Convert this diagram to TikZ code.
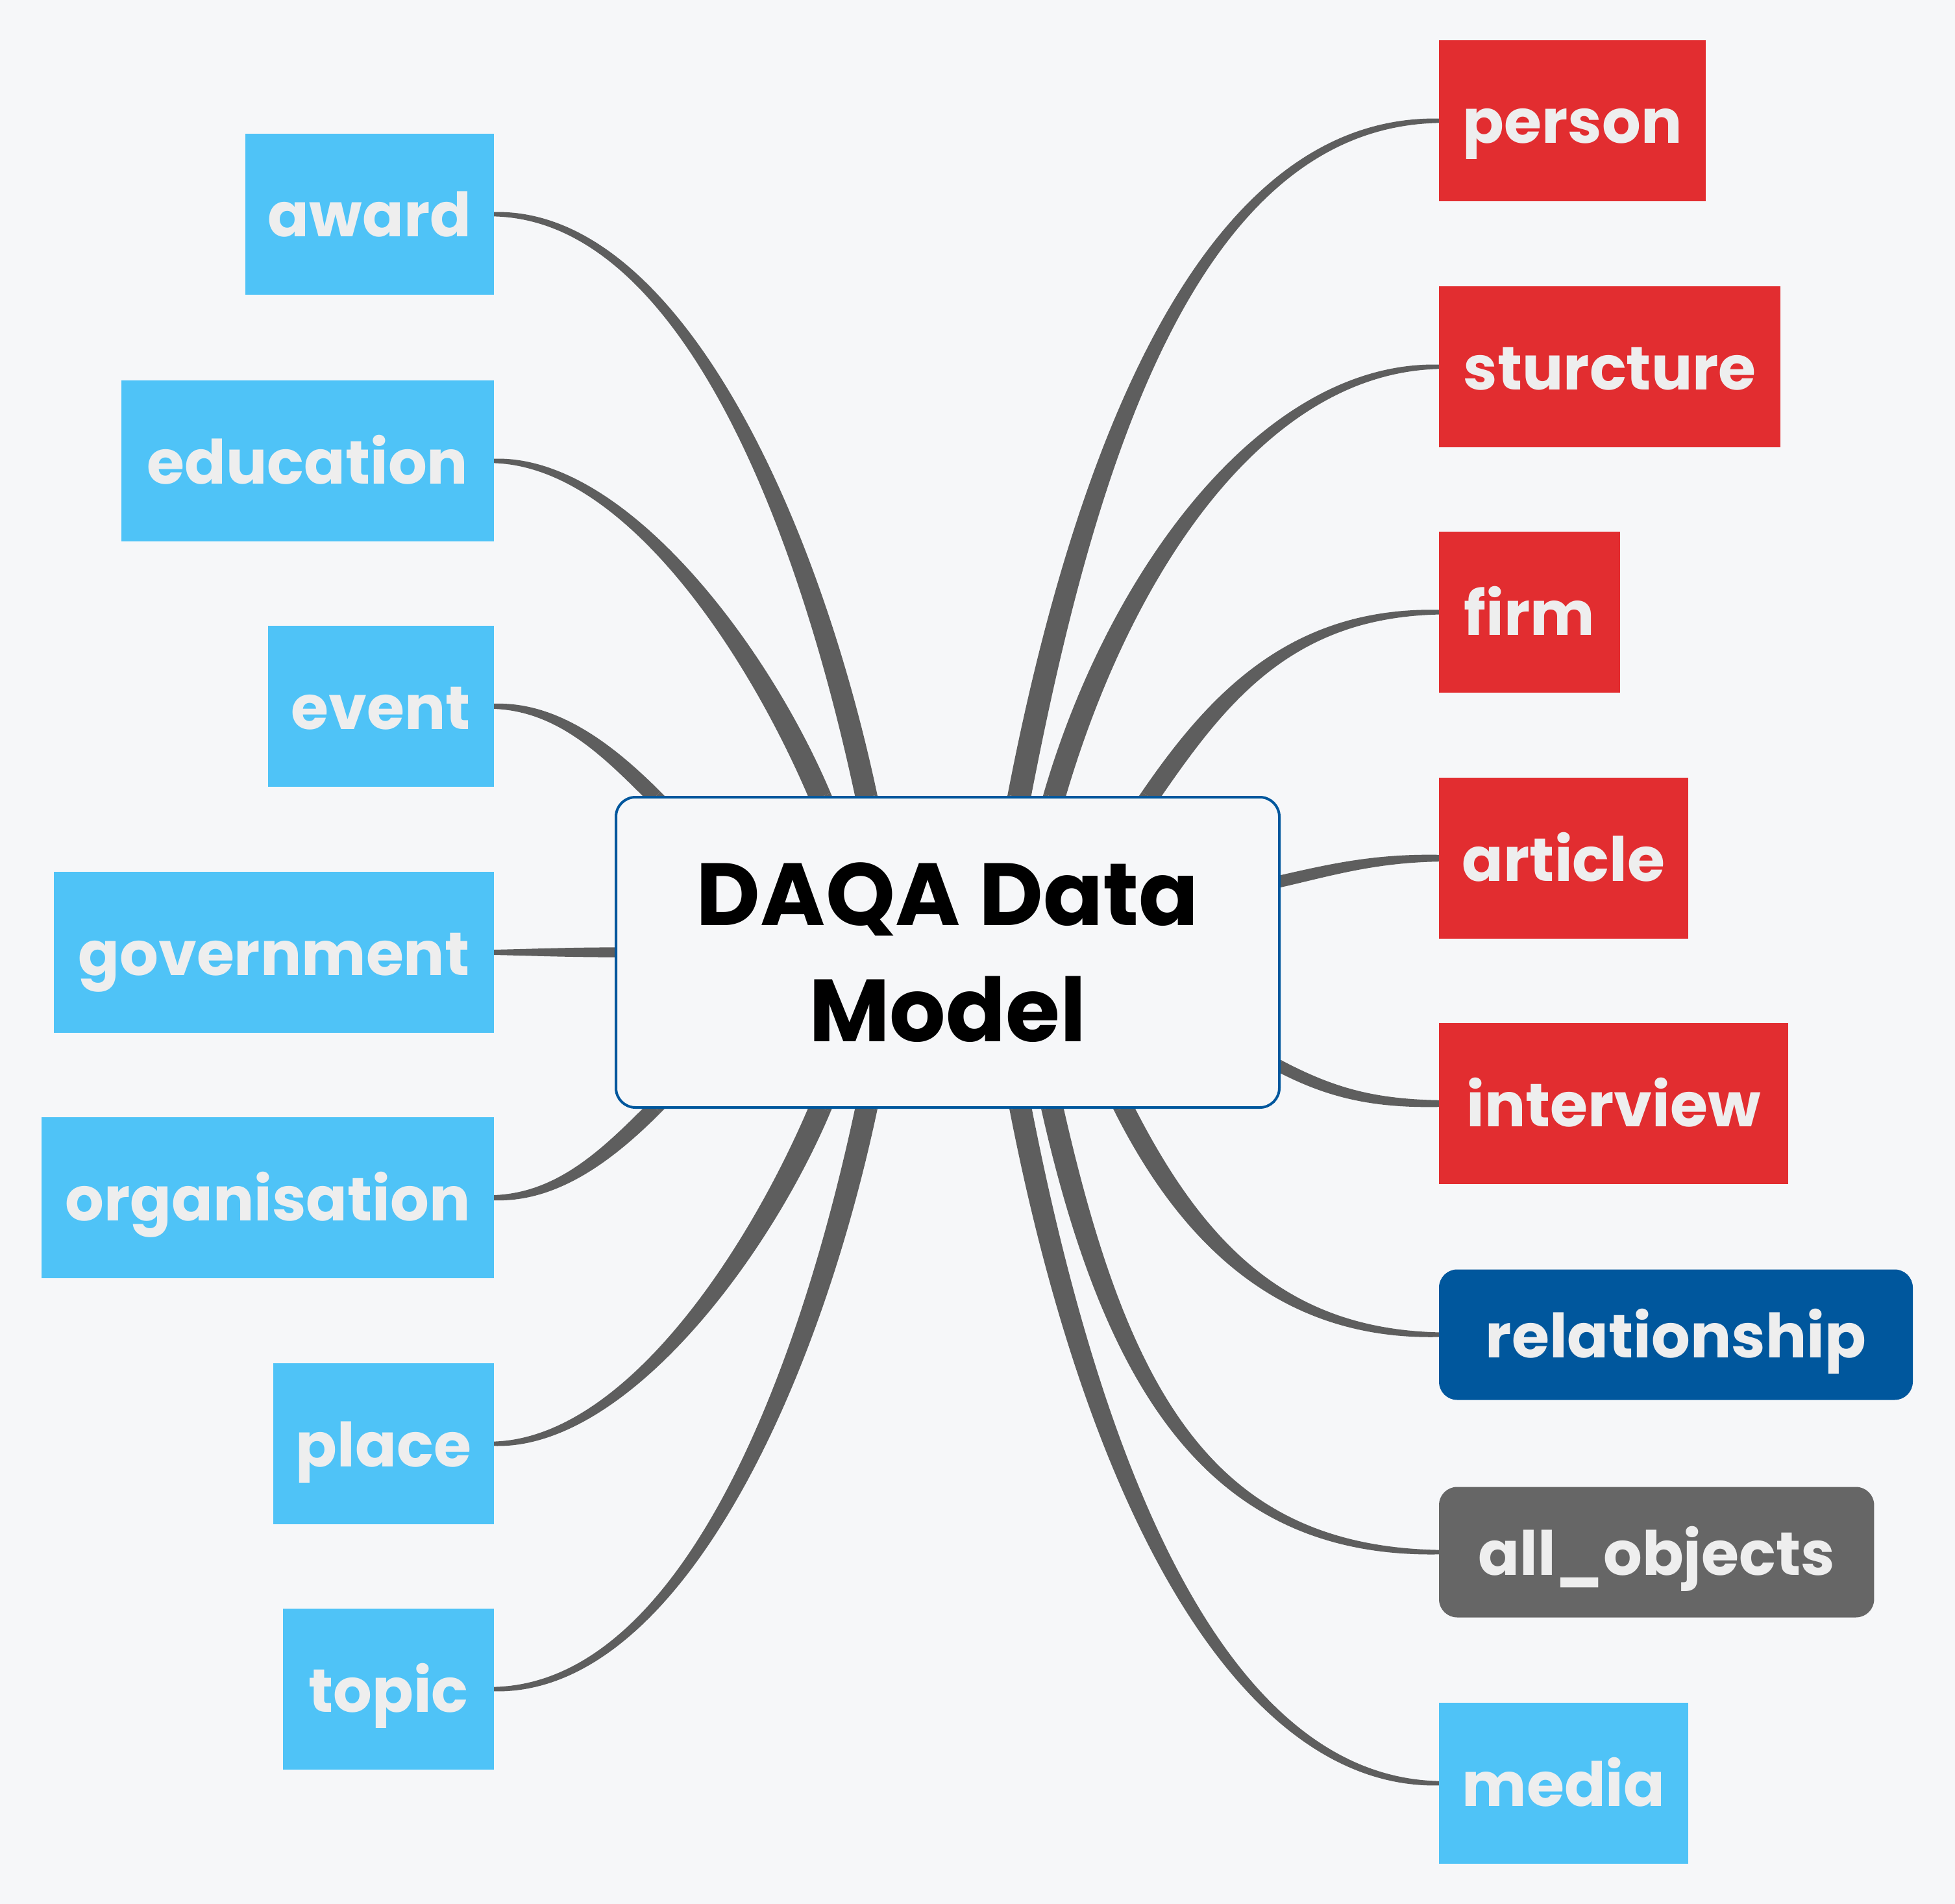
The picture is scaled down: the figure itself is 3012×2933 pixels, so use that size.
\documentclass[tikz,border=0pt]{standalone}
\usepackage{fontspec}
\setmainfont{Poppins}
\usetikzlibrary{calc}
\definecolor{bgc}{HTML}{F6F7F9}
\definecolor{lblue}{HTML}{4FC3F7}
\definecolor{cred}{HTML}{E22D30}
\definecolor{dblue}{HTML}{00579D}
\definecolor{cgrey}{HTML}{666666}
\definecolor{linec}{HTML}{5E5E5E}
\definecolor{txtc}{HTML}{EEEEEE}
\pgfdeclarelayer{back}
\pgfdeclarelayer{conn}
\pgfsetlayers{back,conn,main}
% tapered connector: P0, P1, P2, P3, half width at start, half width at end
\newcommand\taper[6]{%
  \pgfmathsetlengthmacro\tapmid{0.45*(#5)+0.55*(#6)}%
  \fill[linec] ($#1!#5!90:#2$) .. controls ($#2!#5!-90:#1$) and ($#3!\tapmid!90:#4$) .. ($#4!#6!-90:#3$)
    -- ($#4!#6!90:#3$) .. controls ($#3!\tapmid!-90:#4$) and ($#2!#5!90:#1$) .. ($#1!#5!-90:#2$) -- cycle;
  \draw[linec, line width=2*#5] #1 -- ($#1!-40pt!#2$);
}
\tikzset{
  child/.style={inner sep=0pt, outer sep=0pt, minimum height=62pt, text=txtc,
    font=\bfseries\fontsize{23.5}{28}\selectfont, text height=17.5pt, text depth=0pt, align=center},
  lchild/.style={child, fill=lblue, anchor=east},
  rred/.style={child, fill=cred, anchor=west},
  rround/.style={child, anchor=west, minimum height=50.25pt, rounded corners=7pt},
  core/.style={draw=dblue, line width=1pt, fill=bgc, rounded corners=7.5pt,
    minimum width=255.5pt, minimum height=119.5pt, inner sep=0pt, align=center,
    font=\bfseries\fontsize{34}{44.75}\selectfont, text=black}
}
\begin{document}
\begin{tikzpicture}[x=0.25pt, y=-0.25pt]
\begin{pgfonlayer}{back}
\fill[bgc] (0,0) rectangle (3012,2933);
\end{pgfonlayer}
\useasboundingbox (0,0) rectangle (3012,2933);

\node[core] (model) at (1460,1467) {DAQA Data\\Model};

% left nodes
\node[lchild, minimum width=95.75pt] (award) at (761,330) {award};
\node[lchild, minimum width=143.6pt] (education) at (761,710) {education};
\node[lchild, minimum width=87pt] (event) at (761,1088) {event};
\node[lchild, minimum width=169.5pt] (government) at (761,1467) {government};
\node[lchild, minimum width=174.3pt] (organisation) at (761,1845) {organisation};
\node[lchild, minimum width=85pt] (place) at (761,2224) {place};
\node[lchild, minimum width=81.25pt] (topic) at (761,2602) {topic};

% right nodes
\node[rred, minimum width=102.8pt] (person) at (2217,186) {person};
\node[rred, minimum width=131.6pt] (sturcture) at (2217,565) {sturcture};
\node[rred, minimum width=69.7pt] (firm) at (2217,943) {firm};
\node[rred, minimum width=96pt] (article) at (2217,1322) {article};
\node[rred, minimum width=134.5pt] (interview) at (2217,1700) {interview};
\node[rround, fill=dblue, minimum width=182.5pt] (relationship) at (2217,2056) {relationship};
\node[rround, fill=cgrey, minimum width=167.6pt] (allobjects) at (2217,2391) {all\_objects};
\node[child, fill=lblue, anchor=west, minimum width=96pt] (media) at (2217,2747) {media};

% connector support points
\coordinate (awB) at (1335,1228); \coordinate (awA) at (1241,786); \coordinate (awC) at (1041,330);
\coordinate (edB) at (1264,1228); \coordinate (edA) at (1166,996); \coordinate (edC) at (961,710);
\coordinate (evB) at (1009,1228); \coordinate (evA) at (939,1158); \coordinate (evC) at (861,1088);
\coordinate (goB) at (949,1467); \coordinate (goA) at (880,1467); \coordinate (goC) at (830,1467);
\coordinate (orB) at (1009,1706); \coordinate (orA) at (939,1776); \coordinate (orC) at (861,1845);
\coordinate (plB) at (1264,1706); \coordinate (plA) at (1166,1938); \coordinate (plC) at (961,2224);
\coordinate (toB) at (1335,1706); \coordinate (toA) at (1241,2148); \coordinate (toC) at (1041,2602);

\coordinate (peB) at (1570,1228); \coordinate (peA) at (1665,736); \coordinate (peC) at (1837,186);
\coordinate (stB) at (1624,1228); \coordinate (stA) at (1725,880); \coordinate (stC) at (1947,565);
\coordinate (fiB) at (1771,1228); \coordinate (fiA) at (1874,1078); \coordinate (fiC) at (1987,943);
\coordinate (arB) at (1971,1358); \coordinate (arA) at (2050,1340); \coordinate (arC) at (2117,1322);
\coordinate (inB) at (1971,1642); \coordinate (inA) at (2051,1684); \coordinate (inC) at (2117,1700);
\coordinate (reB) at (1731,1706); \coordinate (reA) at (1843,1928); \coordinate (reC) at (1987,2056);
\coordinate (alB) at (1621,1706); \coordinate (alA) at (1720,2144); \coordinate (alC) at (1867,2391);
\coordinate (meB) at (1572,1706); \coordinate (meA) at (1696,2342); \coordinate (meC) at (1917,2747);

\begin{pgfonlayer}{conn}
\taper{(awB)}{(awA)}{(awC)}{(award.east)}{4.25pt}{0.85pt}
\taper{(edB)}{(edA)}{(edC)}{(education.east)}{4.25pt}{0.85pt}
\taper{(evB)}{(evA)}{(evC)}{(event.east)}{3pt}{1pt}
\taper{(goB)}{(goA)}{(goC)}{(government.east)}{1.9pt}{1pt}
\taper{(orB)}{(orA)}{(orC)}{(organisation.east)}{3pt}{1pt}
\taper{(plB)}{(plA)}{(plC)}{(place.east)}{4.25pt}{0.85pt}
\taper{(toB)}{(toA)}{(toC)}{(topic.east)}{4.25pt}{0.85pt}
\taper{(peB)}{(peA)}{(peC)}{(person.west)}{4.5pt}{0.85pt}
\taper{(stB)}{(stA)}{(stC)}{(sturcture.west)}{4.25pt}{0.85pt}
\taper{(fiB)}{(fiA)}{(fiC)}{(firm.west)}{3.6pt}{0.9pt}
\taper{(arB)}{(arA)}{(arC)}{(article.west)}{2.3pt}{1.3pt}
\taper{(inB)}{(inA)}{(inC)}{(interview.west)}{2.3pt}{1.3pt}
\taper{(reB)}{(reA)}{(reC)}{(relationship.west)}{3.8pt}{0.9pt}
\taper{(alB)}{(alA)}{(alC)}{(allobjects.west)}{4.25pt}{0.85pt}
\taper{(meB)}{(meA)}{(meC)}{(media.west)}{4.25pt}{0.85pt}
\end{pgfonlayer}
\end{tikzpicture}
\end{document}
